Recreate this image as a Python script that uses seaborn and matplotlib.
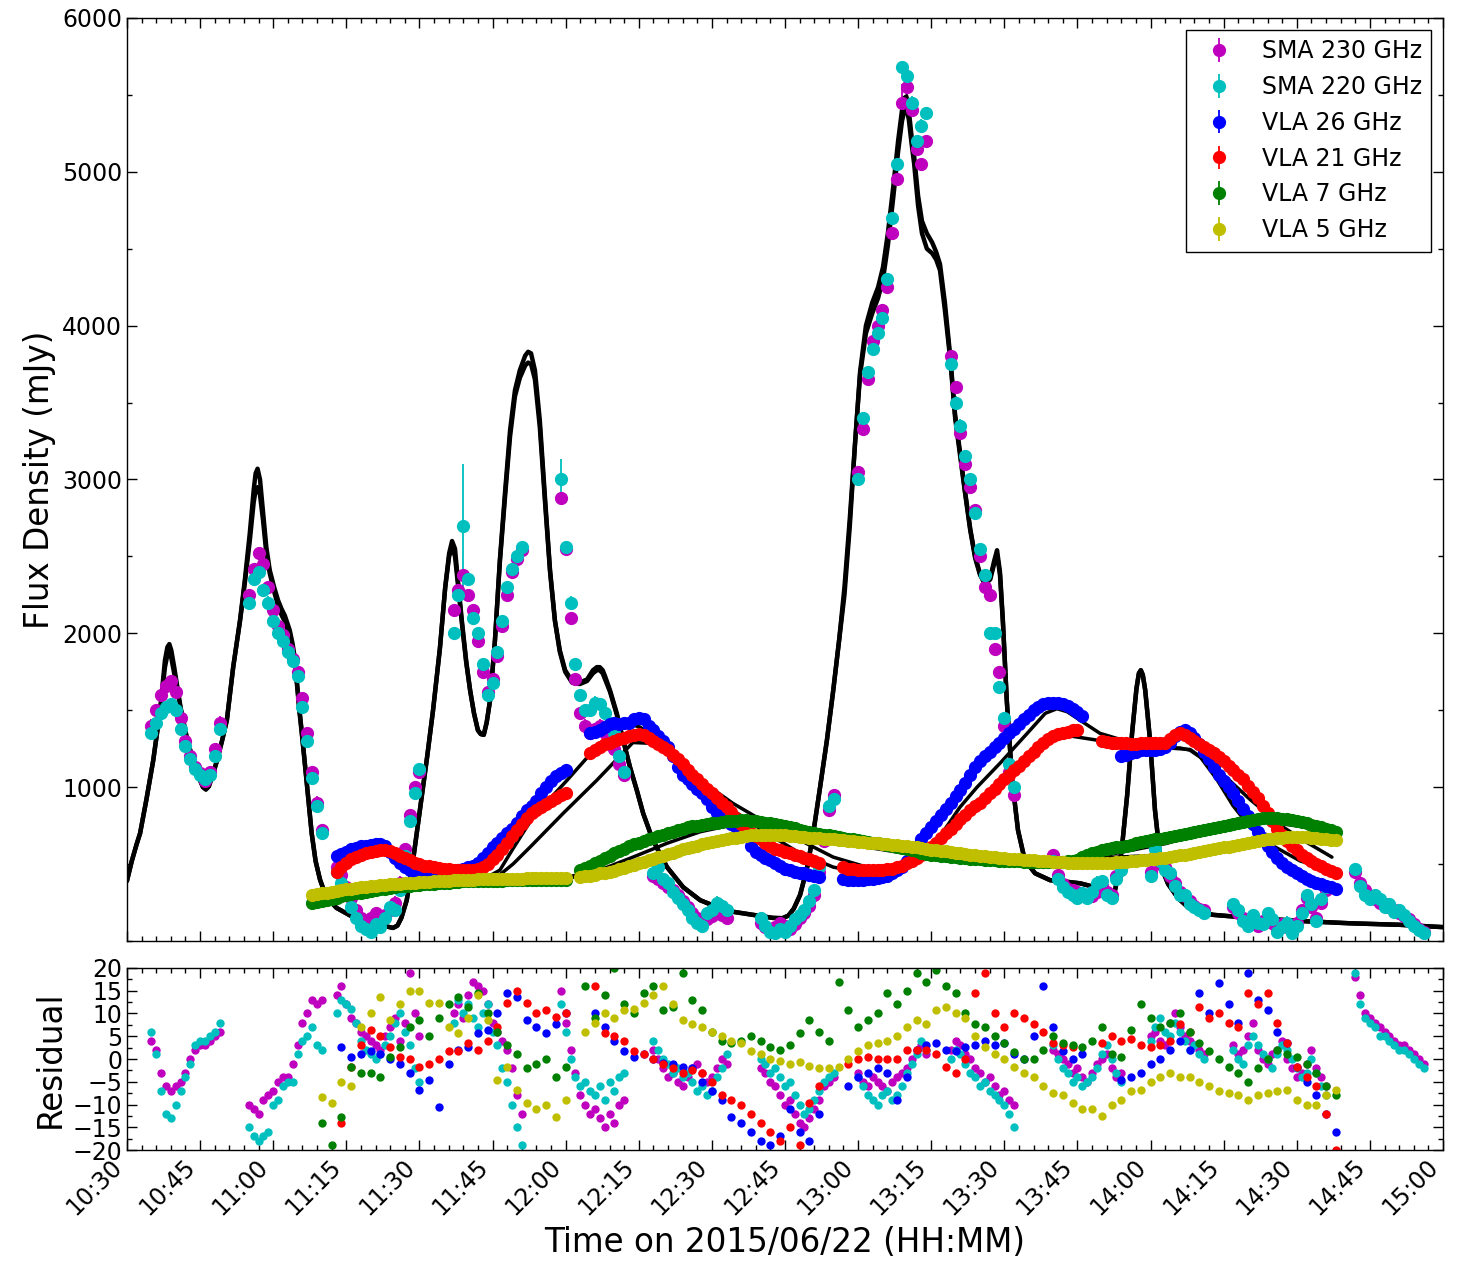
import numpy as np
import matplotlib
matplotlib.use("Agg")
import matplotlib.pyplot as plt
from matplotlib.ticker import MultipleLocator
import seaborn as sns

# ---- data (time = minutes after 10:30 on 2015/06/22, flux in mJy) ----
tick_pos = list(range(0, 271, 15))
tick_labels = ["10:30", "10:45", "11:00", "11:15", "11:30", "11:45", "12:00",
               "12:15", "12:30", "12:45", "13:00", "13:15", "13:30", "13:45",
               "14:00", "14:15", "14:30", "14:45", "15:00"]

# SMA samples (both sidebands share the same scans)
sma_t = [*range(5, 20), *range(25, 41), *range(43, 61), *range(67, 82),
         *range(89, 103), *range(108, 124), *range(130, 146), *range(150, 165),
         *range(169, 183), *range(190, 205), *range(210, 222), *range(227, 247),
         *range(252, 267)]
sma230 = [1400, 1500, 1600, 1660, 1690, 1620, 1450, 1300, 1200, 1130, 1090, 1040, 1100, 1250, 1420,
          2250, 2420, 2520, 2450, 2300, 2150, 2050, 1990, 1900, 1830, 1750, 1580, 1350, 1100, 900, 720,
          480, 430, 350, 280, 200, 150, 120, 150, 180, 130, 170, 200, 250, 380, 600, 820, 1000, 1100,
          2150, 2280, 2380, 2250, 2150, 1950, 1750, 1620, 1700, 1850, 2050, 2250, 2400, 2480, 2540,
          2880, 2550, 2100, 1700, 1480, 1400, 1350, 1380, 1400, 1350, 1300, 1250, 1150, 1080,
          420, 400, 380, 350, 330, 300, 260, 220, 180, 150, 130, 140, 160, 200, 170, 150,
          120, 90, 70, 90, 120, 100, 80, 110, 150, 180, 230, 300, 450, 650, 850, 950,
          3050, 3330, 3650, 3900, 4000, 4100, 4250, 4600, 4950, 5450, 5550, 5400, 5150, 5050, 5200,
          3800, 3600, 3300, 3100, 2950, 2800, 2500, 2300, 2250, 1900, 1750, 1400, 1100, 950,
          560, 430, 370, 340, 330, 320, 300, 300, 290, 320, 360, 320, 300, 420, 480,
          450, 550, 500, 480, 420, 380, 320, 290, 260, 230, 210, 200,
          220, 180, 150, 120, 150, 100, 130, 160, 120, 80, 110, 90, 70, 120, 200, 280, 220, 150, 250, 330,
          450, 380, 330, 290, 270, 250, 240, 220, 200, 180, 160, 140, 110, 80, 60]
sma220 = [1350, 1420, 1480, 1520, 1540, 1500, 1380, 1270, 1180, 1120, 1080, 1050, 1080, 1200, 1380,
          2200, 2350, 2400, 2280, 2200, 2080, 2000, 1950, 1880, 1820, 1720, 1520, 1300, 1060, 880, 700,
          450, 380, 300, 220, 150, 100, 80, 60, 110, 90, 150, 220, 200, 330, 550, 780, 960, 1120,
          2000, 2250, 2700, 2350, 2100, 2000, 1800, 1600, 1680, 1880, 2080, 2300, 2420, 2500, 2560,
          3000, 2560, 2200, 1800, 1600, 1500, 1500, 1550, 1540, 1480, 1420, 1350, 1200, 1100,
          440, 480, 400, 380, 320, 280, 240, 200, 150, 120, 100, 180, 200, 250, 230, 200,
          150, 100, 60, 50, 80, 60, 100, 140, 170, 200, 260, 330, 480, 680, 880, 920,
          3000, 3400, 3700, 3850, 3950, 4050, 4300, 4700, 5050, 5680, 5620, 5450, 5200, 5300, 5380,
          3750, 3500, 3350, 3150, 3000, 2780, 2550, 2380, 2000, 2000, 1650, 1450, 1150, 1000,
          520, 400, 350, 320, 300, 280, 310, 280, 320, 380, 390, 300, 280, 400, 460,
          420, 600, 520, 460, 440, 360, 300, 300, 240, 220, 200, 180,
          240, 200, 130, 100, 170, 120, 110, 180, 140, 60, 90, 120, 50, 100, 180, 300, 240, 130, 270, 350,
          470, 360, 300, 270, 300, 270, 220, 240, 190, 200, 170, 130, 100, 70, 50]
sma_err = 40
sma230_big_err = {159: 120, 160: 100}
sma220_big_err = {69: 400, 89: 130}

res230 = [4, 2, -3, -6, -7, -6, -5, -3, 0, 2, 3, 3, 4, 5, 6,
          -10, -11, -12, -9, -8, -7, -5, -4, -4, -1, 3, 8, 10, 13, 12, 13,
          14, 16, 12, 9, 8, 6, 5, 4, 3, 2, 5, 7, 9, 4, 8, 19, 10, 5,
          10, 12, 9, 14, 17, 16, 15, 12, 8, 6, 4, 2, -2, -8, -12,
          15, 8, 2, -3, -8, -10, -12, -11, -13, -15, -12, -14, -10, -9,
          2, 0, -2, -4, -3, -5, -6, -4, -2, -1, -3, -5, -4, -2, 0, -1,
          -2, -3, -5, -6, -8, -10, -9, -12, -14, -15, -13, -11, -9, -6, -5, -4,
          -3, -5, -6, -4, -5, -6, -7, -5, -4, -3, -2, 0, 2, 3, 1,
          2, 4, 3, 1, 0, -2, -3, -5, -4, -6, -8, -7, -9, -10,
          2, 1, 0, -1, -3, -2, -4, -5, -3, -1, 0, 1, -2, -4, -3,
          5, 6, 4, 3, 8, 10, 7, 5, 4, 3, 2, 1,
          3, 1, 2, 5, 8, 2, 0, -1, 1, 2, 4, 0, -2, -4, -3, -1, 2, -2, -4, -6,
          18, 14, 10, 9, 8, 7, 6, 5, 4, 3, 3, 2, 1, 0, -1]
res220 = [6, 1, -7, -12, -13, -10, -7, -4, -1, 3, 4, 4, 5, 6, 8,
          -15, -17, -18, -17, -16, -10, -9, -6, -5, -5, 1, 4, 5, 7, 3, 2,
          10, 13, 12, 11, 8, 4, 2, 1, 0, 1, 3, 5, 8, 10, 6, 3, -2, -5,
          8, 13, 10, 12, 9, 7, 10, 12, 6, 3, -2, -5, -10, -15, -19,
          12, 6, 0, -4, -6, -5, -7, -8, -6, -9, -5, -7, -4, -3,
          4, 2, 0, -1, -3, -2, -4, -3, -5, -7, -6, -8, -7, -4, -2, 1,
          0, -1, -3, -2, -4, -6, -5, -8, -10, -12, -11, -9, -7, -5, -4, -3,
          -4, -6, -8, -9, -10, -8, -7, -9, -8, -6, -3, -1, 1, 4, 2,
          0, 2, 1, -1, -3, -4, -6, -5, -7, -8, -9, -10, -12, -15,
          3, 0, -2, -3, -5, -4, -6, -5, -4, -2, 1, 3, 0, -3, -5,
          4, 7, 9, 6, 5, 8, 6, 4, 2, 3, 1, 0,
          2, 0, -1, 3, 5, 3, 1, 0, -2, 1, 3, 2, 0, -2, -4, -3, 0, -3, -6, -8,
          19, 12, 9, 8, 7, 5, 5, 4, 3, 2, 2, 1, 0, -1, -2]

# VLA 26 GHz
vla26_t = [*range(43, 91), *range(95, 143), *range(147, 197), *range(204, 249)]
vla26 = [550, 565, 580, 595, 605, 615, 620, 625, 630, 630, 620, 580, 540, 505, 480, 460,
         450, 440, 440, 440, 445, 445, 450, 450, 455, 460, 470, 480, 490, 510, 540, 575,
         610, 640, 670, 700, 730, 770, 810, 850, 880, 910, 960, 1000, 1040, 1070, 1090, 1110,
         1350, 1360, 1370, 1390, 1410, 1415, 1410, 1420, 1420, 1440, 1450, 1440, 1400, 1370, 1330, 1300,
         1260, 1200, 1130, 1080, 1050, 1020, 990, 960, 920, 870, 830, 800, 780, 760, 740, 710,
         680, 620, 580, 560, 540, 525, 510, 490, 470, 460, 450, 445, 440, 430, 420, 415,
         400, 395, 395, 395, 395, 400, 405, 410, 415, 425, 440, 460, 480, 520, 560, 610, 660,
         700, 740, 780, 820, 860, 900, 940, 980, 1030, 1080, 1130, 1170, 1200, 1230, 1260, 1290,
         1320, 1350, 1380, 1410, 1440, 1470, 1500, 1520, 1540, 1550, 1550, 1550, 1540, 1530, 1510, 1490, 1460,
         1200, 1210, 1220, 1230, 1240, 1240, 1240, 1240, 1245, 1260, 1290, 1330, 1360, 1370, 1350,
         1320, 1280, 1230, 1180, 1130, 1080, 1040, 1000, 960, 910, 860, 810, 760, 710, 670,
         620, 580, 540, 510, 480, 460, 440, 420, 405, 390, 380, 370, 360, 350, 340]
# VLA 21 GHz
vla21_t = [*range(43, 91), *range(95, 143), *range(147, 196), *range(200, 249)]
vla21 = [450, 480, 510, 530, 545, 560, 570, 580, 585, 590, 590, 585, 570, 555, 540, 525,
         510, 500, 490, 485, 480, 475, 470, 465, 462, 460, 460, 460, 462, 470, 480, 500,
         530, 560, 600, 640, 680, 720, 760, 800, 830, 850, 870, 890, 910, 930, 950, 960,
         1220, 1240, 1260, 1280, 1290, 1300, 1310, 1320, 1330, 1340, 1345, 1340, 1320, 1300, 1280, 1260,
         1240, 1210, 1180, 1150, 1110, 1080, 1050, 1020, 990, 960, 930, 900, 870, 840, 800, 760,
         730, 700, 680, 660, 640, 620, 600, 590, 580, 570, 560, 550, 540, 530, 520, 510,
         480, 470, 465, 460, 460, 460, 460, 460, 460, 465, 470, 480, 490, 505, 520, 540, 560,
         585, 610, 640, 670, 700, 730, 760, 790, 820, 850, 875, 900, 930, 960, 990, 1020,
         1050, 1080, 1110, 1140, 1170, 1200, 1230, 1260, 1290, 1310, 1330, 1345, 1355, 1360, 1370, 1370,
         1300, 1295, 1290, 1290, 1285, 1285, 1280, 1280, 1285, 1290, 1290, 1285, 1285, 1290, 1310, 1340,
         1350, 1340, 1320, 1300, 1280, 1260, 1240, 1220, 1195, 1170, 1140, 1110, 1080, 1050, 1010, 970,
         930, 880, 830, 780, 730, 690, 650, 620, 590, 560, 540, 520, 500, 485, 470, 455, 440]
# VLA 7 GHz and 5 GHz
vlalow_t = [*range(38, 91), *range(93, 249)]
vla7 = [245, 252, 260, 268, 275, 282, 290, 298, 305, 310, 315, 320, 325, 330, 335, 340, 345, 350,
        355, 358, 360, 363, 365, 368, 370, 373, 375, 378, 380, 383, 385, 387, 388, 389, 390, 391,
        392, 392, 393, 393, 394, 394, 395, 395, 395, 395, 395, 395, 395, 395, 395, 395, 395,
        460, 475, 490, 505, 520, 540, 555, 570, 585, 600, 615, 630, 640, 650, 660, 670, 680, 690,
        700, 710, 720, 730, 740, 745, 750, 755, 760, 765, 770, 775, 778, 780, 782, 785, 785, 783,
        780, 775, 770, 765, 760, 755, 748, 740, 732, 722, 715, 708, 702, 698, 692, 686, 680, 675,
        670, 665, 660, 655, 650, 645, 640, 635, 630, 625, 620, 612, 605, 598, 590, 582, 575, 568,
        562, 558, 555, 550, 548, 545, 540, 538, 535, 532, 530, 528, 526, 524, 522, 520, 519, 518,
        517, 516, 515, 515, 515, 515, 515, 515, 515, 516, 518, 520, 525, 545, 560, 570, 580, 590,
        597, 603, 608, 614, 620, 627, 634, 641, 648, 655, 660, 666, 672, 678, 684, 690, 696, 702,
        708, 714, 720, 727, 734, 740, 748, 755, 762, 770, 776, 782, 788, 793, 797, 800, 800, 798,
        795, 790, 785, 780, 772, 765, 757, 748, 740, 730, 720, 710]
vla5 = [300, 305, 310, 315, 320, 325, 330, 335, 340, 344, 348, 352, 355, 358, 362, 365, 368, 370,
        373, 376, 378, 380, 382, 384, 386, 388, 390, 392, 393, 395, 396, 397, 398, 399, 400, 401,
        402, 403, 404, 404, 405, 405, 406, 406, 407, 407, 408, 408, 409, 409, 410, 410, 410,
        415, 420, 425, 432, 440, 445, 450, 458, 466, 475, 485, 495, 505, 515, 525, 535, 545, 555,
        565, 575, 585, 595, 605, 613, 620, 628, 635, 642, 650, 656, 662, 667, 672, 677, 682, 686,
        689, 690, 691, 691, 690, 689, 687, 684, 680, 677, 675, 672, 670, 668, 665, 662, 660, 657,
        654, 651, 648, 645, 642, 640, 637, 635, 632, 630, 627, 624, 620, 616, 612, 608, 603, 598,
        594, 590, 586, 582, 578, 574, 570, 566, 562, 558, 554, 550, 547, 544, 541, 538, 535, 532,
        530, 528, 526, 524, 522, 520, 518, 516, 514, 512, 510, 508, 506, 505, 505, 505, 506, 507,
        508, 509, 511, 513, 515, 518, 521, 524, 527, 530, 534, 538, 542, 547, 552, 557, 562, 567,
        572, 578, 584, 590, 596, 602, 608, 614, 620, 626, 632, 638, 644, 650, 655, 660, 664, 668,
        671, 673, 675, 676, 676, 675, 672, 668, 664, 660, 657, 655]
vla_err = 10

# residuals for the VLA bands (every other scan)
res26_t = [*range(44, 91, 2), *range(96, 143, 2), *range(148, 197, 2), *range(204, 249, 2)]
res26 = [2.6, 0.5, 1, 1.7, 1, 0, -1, -3, -6.8, -4.6, -10.5, -1, 1.9, 2.6, 5.7, 6.4, 10, 14.5,
         13.6, 8.6, 7, 5.7, 7.8, 10,
         10, 7, 4, 1.7, 0.5, 1, 0, -0.8, -1, -1.7, -2, -5, -7, -9, -12.7, -14, -16, -18, -19,
         -17, -11, -16, -18, -12,
         -6, -4, -3, -2, -3, -9, -4, 2, 3, 3.5, 2, 1.7, 2.6, 3, 4, 3, 3.5, 1, 0, 5, 16, 7, 1.7, 0, 1,
         -4.6, -4, -3, -1, 0, 2, 4, 2, 14.5, 10, 16.6, 12, 8, 19, 13, 10.8, 6, 3.5, -1.7, -5, -8, -12, -16]
res21_t = [*range(44, 91, 2), *range(96, 143, 2), *range(148, 195, 2), *range(200, 249, 2)]
res21 = [-14, -1.7, 3, 6.4, 5, 2.6, 0.5, 0, -1.7, -1, 0, 1.7, 1.7, 3.5, 1.9, 4, 7, 12.3, 15,
         12.3, 10, 10.8, 9.2, 10,
         16, 5.7, 5, 4, 1.7, 1, 0, -1, -2, -3, -2.5, -3, -5, -8, -9, -10, -12, -14, -16, -18,
         -15, -19, -9.7, -6,
         -1, 0, 0.5, 0, 0, 0, 2, 2, 2, 1, -1.7, -3, 0, 14.5, 18.8, 10, 7, 10, 9, 7.8, 6, 3.5, 3, 2.6,
         3.5, 5, 4, 4.5, 3, 2.6, 3, 4, 7.8, 6, 11.5, 9, 10, 8, 7, 14.5, 12, 14.5, 8, 3.5, -1.7,
         -4, -6, -12, -20]
reslow_t = [*range(40, 91, 2), *range(94, 249, 2)]
res7 = [-14, -19, -12.7, -1.7, -3, -3, -4, 0.5, 2.6, 7, 8.6, 5, 9, 12, 13.6, 11.5, 14.5, 10, 6,
        3, 1, -2, -1, 0, -4, -1.7,
        16, 9, 14, 20, 12, 10, 14.5, 16, 10.8, 11.5, 19, 13, 10.8, 6, 4, 3.5, 4, 5, 4, 2.6,
        1.9, 3, 5.7, 8.6, 6, 4, 17, 10.8, 7, 8.6, 10, 14.5, 12, 15, 18.8, 17, 19.6, 16, 14.5,
        10, 7.8, 7, 5, 3.5, 1.5, 0, 0, 2, 5, 3.5, 3, 2.6, 4, 7, 1, 0.5, 6.4, 12, 9, 7, 8, 10,
        6, 3.5, 1.7, 0, -1.7, -3, -5, -2, 0, 2, 1, 0.5, -1, -3, -6, -8]
res5 = [-8.3, -9.6, -5, -6, 7, 10, 13.6, 8.6, 12, 15, 15, 12.3, 12.3, 7, 5.7, 9, 14, 8.6,
        -4.6, -1.7, -6.8, -9.6, -11, -10, -12.7, -9,
        6, 8, 10, 9, 10.8, 11, 12.3, 14, 16, 12, 8.6, 7.8, 7, 6, 5, 4, 3.5, 1.7, 1, 0, -0.5,
        -1, -0.7, -1.5, -2, -2, -1.7, 0, 1.7, 3, 3.5, 4, 5, 7, 8.6, 7.8, 10.8, 11.5, 10, 9, 5,
        2.6, 1, 0, -1.7, -3, -4, -6, -7.5, -8, -9.7, -11, -11, -12.5, -10, -9, -7, -6.8, -5,
        -4, -3, -4, -4, -5, -6, -7, -7.5, -8, -9, -8, -7.5, -7, -6.8, -9, -10, -10, -8, -6.8]

# model light curves
sma_model_t = [0.0, 1.0, 2.0, 2.7, 4.0, 5.4, 6.8, 7.8, 8.3, 8.7,
               9.1, 9.7, 10.4, 11.0, 12.4, 13.6, 14.8, 15.6, 16.2, 16.8,
               17.6, 18.5, 19.5, 20.5, 21.8, 23.2, 24.2, 25.2, 26.0, 26.4,
               26.8, 27.3, 27.9, 28.6, 29.3, 30.2, 31.0, 31.7, 32.4, 33.4,
               34.0, 34.5, 34.9, 35.4, 35.9, 36.9, 37.9, 38.7, 39.6, 40.5,
               41.5, 43.0, 46.4, 50.0, 52.5, 54.6, 55.5, 56.3, 57.4, 58.7,
               60.1, 61.6, 62.8, 64.2, 65.3, 66.1, 66.7, 67.3, 67.9, 68.7,
               69.6, 70.4, 71.2, 72.0, 72.6, 73.2, 73.8, 74.5, 75.5, 76.5,
               77.6, 78.6, 79.6, 80.6, 81.7, 82.3, 82.9, 83.7, 84.7, 85.8,
               86.8, 87.8, 88.8, 89.9, 91.3, 92.9, 94.4, 95.6, 96.4, 97.0,
               97.6, 98.1, 99.1, 100.5, 101.8, 103.2, 104.6, 105.9, 107.9, 110.8,
               114.1, 117.6, 121.1, 124.3, 128.4, 132.5, 134.5, 135.7, 136.8, 138.1,
               139.5, 140.7, 142.2, 143.6, 144.9, 146.1, 147.2, 148.3, 149.4, 150.4,
               151.6, 152.9, 154.1, 155.1, 156.1, 157.2, 158.2, 159.0, 159.5, 159.9,
               160.4, 160.9, 161.5, 162.3, 163.1, 164.1, 165.2, 166.0, 166.8, 167.8,
               168.9, 169.9, 170.9, 171.9, 173.0, 174.0, 175.0, 176.0, 177.1, 177.9,
               178.5, 179.1, 179.7, 180.5, 181.6, 182.8, 184.2, 186.3, 189.4, 191.4,
               195.5, 198.6, 200.7, 201.6, 202.1, 202.7, 203.3, 204.1, 205.2, 206.2,
               207.1, 207.6, 208.0, 208.4, 208.9, 209.9, 210.9, 211.9, 212.7, 213.6,
               215.6, 217.3, 219.1, 222.8, 230.4, 240.7, 250.9, 261.2, 270.0]
sma230_model = [390, 520, 630, 700, 920, 1175, 1500, 1825, 1910, 1930,
                1890, 1780, 1640, 1520, 1305, 1175, 1060, 1000, 985, 1005,
                1080, 1175, 1300, 1435, 1780, 2085, 2350, 2650, 2930, 3040,
                3070, 3000, 2800, 2560, 2410, 2300, 2215, 2160, 2115, 2020,
                1930, 1825, 1675, 1500, 1350, 1025, 700, 520, 400, 320,
                265, 215, 155, 115, 100, 85, 100, 150, 265, 525,
                850, 1200, 1500, 1900, 2300, 2520, 2600, 2550, 2345, 2085,
                1820, 1630, 1480, 1370, 1345, 1340, 1420, 1565, 1955, 2475,
                2930, 3320, 3580, 3710, 3805, 3830, 3820, 3710, 3385, 2865,
                2410, 2085, 1890, 1760, 1690, 1680, 1700, 1760, 1780, 1780,
                1760, 1720, 1630, 1480, 1305, 1130, 980, 830, 655, 480,
                350, 265, 220, 190, 170, 150, 148, 165, 210, 300,
                470, 680, 1000, 1305, 1630, 1955, 2300, 2750, 3250, 3700,
                4000, 4150, 4250, 4380, 4600, 4900, 5200, 5400, 5480, 5490,
                5400, 5250, 5100, 4845, 4680, 4600, 4540, 4480, 4400, 4150,
                3800, 3420, 3180, 2930, 2680, 2500, 2390, 2325, 2360, 2470,
                2540, 2400, 2085, 1565, 1045, 720, 525, 440, 395, 390,
                375, 350, 320, 305, 300, 330, 420, 600, 950, 1350,
                1640, 1740, 1760, 1730, 1630, 1300, 850, 560, 440, 370,
                280, 230, 200, 170, 150, 130, 115, 105, 90]
sma220_model = [390, 520, 630, 700, 920, 1175, 1490, 1780, 1860, 1880,
                1840, 1740, 1620, 1510, 1300, 1175, 1060, 1000, 985, 1005,
                1080, 1175, 1300, 1435, 1780, 2080, 2330, 2600, 2850, 2930,
                2950, 2900, 2740, 2520, 2390, 2270, 2180, 2120, 2075, 1985,
                1900, 1800, 1660, 1490, 1340, 1025, 700, 520, 400, 320,
                265, 215, 155, 115, 100, 85, 100, 150, 265, 525,
                850, 1200, 1500, 1900, 2300, 2500, 2560, 2500, 2320, 2070,
                1810, 1630, 1480, 1370, 1345, 1340, 1420, 1565, 1955, 2460,
                2900, 3280, 3540, 3660, 3740, 3760, 3750, 3650, 3340, 2840,
                2400, 2080, 1880, 1750, 1680, 1670, 1690, 1740, 1760, 1760,
                1740, 1700, 1620, 1470, 1305, 1130, 980, 830, 655, 480,
                350, 265, 220, 190, 170, 150, 148, 165, 210, 300,
                470, 680, 1000, 1305, 1630, 1955, 2250, 2700, 3250, 3680,
                3950, 4080, 4180, 4300, 4520, 4830, 5130, 5330, 5400, 5420,
                5340, 5200, 5050, 4780, 4600, 4500, 4470, 4430, 4360, 4100,
                3780, 3400, 3160, 2920, 2670, 2490, 2380, 2320, 2350, 2450,
                2510, 2380, 2070, 1560, 1045, 720, 525, 440, 395, 390,
                375, 350, 320, 305, 300, 330, 420, 600, 950, 1350,
                1640, 1740, 1760, 1730, 1630, 1300, 850, 560, 440, 370,
                280, 230, 200, 170, 150, 130, 115, 105, 90]
vla26_model_t = [43.3, 48.0, 50.5, 52.5, 55.0, 58.1, 62.0, 66.1, 70.0, 73.9,
                 76.5, 79.2, 83.3, 90.3, 97.0, 102.6, 105.3, 110.8, 117.6, 124.3,
                 131.3, 138.1, 144.9, 151.8, 158.6, 162.7, 166.8, 170.9, 174.4, 179.1,
                 184.7, 188.4, 190.8, 192.9, 199.6, 206.4, 213.4, 218.1, 220.1, 223.6,
                 226.9, 230.4, 233.9, 240.7, 247.2]
vla26_model = [530, 560, 580, 575, 545, 500, 450, 420, 405, 415,
               460, 600, 805, 1045, 1285, 1415, 1390, 1260, 1045, 895,
               765, 655, 545, 480, 460, 530, 680, 870, 1000, 1155,
               1350, 1480, 1510, 1490, 1350, 1285, 1255, 1245, 1200, 1050,
               880, 740, 640, 520, 460]
vla21_model_t = [43.3, 48.0, 51.9, 55.0, 58.1, 62.0, 66.1, 70.0, 73.9, 75.9,
                 79.2, 82.7, 89.5, 96.4, 103.8, 107.3, 110.8, 117.6, 124.3, 131.3,
                 138.1, 144.9, 151.8, 158.6, 165.4, 172.3, 176.4, 179.1, 184.7, 189.4,
                 192.0, 196.1, 203.1, 209.9, 216.0, 218.1, 223.6, 230.4, 237.2, 242.1,
                 247.2]
vla21_model = [510, 550, 570, 555, 520, 470, 430, 410, 405, 415,
               500, 610, 830, 1045, 1290, 1285, 1220, 1025, 850, 700,
               570, 480, 440, 460, 610, 800, 960, 1000, 1175, 1305,
               1340, 1320, 1285, 1255, 1255, 1240, 1120, 920, 740, 640,
               545]
vla7_model_t = [43.3, 56.0, 70.4, 76.5, 90.3, 97.0, 103.8, 110.8, 117.6, 124.3, 127.8, 131.3,
                138.1, 144.9, 151.8, 158.6, 165.4, 172.3, 185.9, 199.6, 213.4, 223.6, 229.0,
                233.9, 240.7, 247.2]
vla7_model = [300, 350, 385, 395, 415, 460, 545, 635, 710, 755, 765, 755,
              710, 655, 610, 575, 545, 530, 520, 550, 635, 740, 785,
              775, 745, 720]
vla5_model_t = [43.3, 56.0, 70.4, 76.5, 90.3, 97.0, 103.8, 110.8, 117.6, 124.3, 131.3, 138.1,
                144.9, 151.8, 158.6, 165.4, 172.3, 185.9, 199.6, 213.4, 223.6, 233.9, 240.7, 247.2]
vla5_model = [300, 350, 385, 395, 410, 430, 480, 560, 635, 675, 700, 690,
              670, 635, 610, 575, 560, 540, 540, 560, 610, 665, 685, 690]

# ---- style ----
sns.set_style("ticks", {"xtick.direction": "in", "ytick.direction": "in",
                        "axes.edgecolor": "black", "axes.grid": False})
plt.rcParams.update({
    "font.family": ["DejaVu Sans"],
    "text.color": "black", "axes.labelcolor": "black",
    "xtick.top": True, "ytick.right": True,
    "xtick.major.size": 7, "ytick.major.size": 7,
    "xtick.minor.size": 3.5, "ytick.minor.size": 3.5,
    "xtick.major.width": 1, "ytick.major.width": 1,
    "xtick.minor.width": 1, "ytick.minor.width": 1,
    "xtick.color": "black", "ytick.color": "black",
    "xtick.labelsize": 17, "ytick.labelsize": 17,
    "axes.linewidth": 1,
})

fig = plt.figure(figsize=(14.64, 12.74), dpi=100)
ax = fig.add_axes([0.0867, 0.2614, 0.899, 0.7245])
axr = fig.add_axes([0.0867, 0.0973, 0.899, 0.1429])


def err_array(t, base, big):
    e = np.full(len(t), float(base))
    for tt, ee in big.items():
        e[t.index(tt)] = ee
    return e


data = [
    ("SMA 230 GHz", sma_t, sma230, err_array(sma_t, sma_err, sma230_big_err), "m"),
    ("SMA 220 GHz", sma_t, sma220, err_array(sma_t, sma_err, sma220_big_err), "c"),
    ("VLA 26 GHz", vla26_t, vla26, vla_err, "b"),
    ("VLA 21 GHz", vla21_t, vla21, vla_err, "r"),
    ("VLA 7 GHz", vlalow_t, vla7, vla_err, "g"),
    ("VLA 5 GHz", vlalow_t, vla5, vla_err, "y"),
]
for label, t, v, e, c in data:
    ax.errorbar(t, v, yerr=e, fmt="o", color=c, mec=c, ms=8.5,
                elinewidth=1.3, capsize=0, label=label)

models = [(sma_model_t, sma230_model, 3.2), (sma_model_t, sma220_model, 3.2),
          (vla26_model_t, vla26_model, 2.5), (vla21_model_t, vla21_model, 2.5),
          (vla7_model_t, vla7_model, 2.5), (vla5_model_t, vla5_model, 2.5)]
for t, v, lw in models:
    sns.lineplot(x=t, y=v, color="k", lw=lw, ax=ax, sort=False,
                 estimator=None, legend=False)

resid = [(sma_t, res230, "m"), (sma_t, res220, "c"), (res26_t, res26, "b"),
         (res21_t, res21, "r"), (reslow_t, res7, "g"), (reslow_t, res5, "y")]
for t, r, c in resid:
    sns.scatterplot(x=t, y=r, color=c, s=36, linewidth=0, ax=axr, legend=False)

# ---- axes ----
ax.set_xlim(0, 270)
ax.set_ylim(0, 6000)
ax.set_xticks(tick_pos)
ax.xaxis.set_minor_locator(MultipleLocator(3))
ax.set_yticks(range(1000, 6001, 1000))
ax.yaxis.set_minor_locator(MultipleLocator(500))
ax.tick_params(labelbottom=False)
ax.tick_params(which="both", direction="in", top=True, right=True)
ax.set_ylabel("Flux Density (mJy)", fontsize=23.5)
ax.legend(loc="upper right", numpoints=1, fontsize=17, fancybox=False,
          edgecolor="black", framealpha=1, labelspacing=0.5)

axr.set_xlim(0, 270)
axr.set_ylim(-20, 20)
axr.set_xticks(tick_pos)
axr.set_xticklabels(tick_labels, rotation=45, ha="right")
axr.xaxis.set_minor_locator(MultipleLocator(3))
axr.set_yticks(range(-20, 21, 5))
axr.yaxis.set_minor_locator(MultipleLocator(2.5))
axr.tick_params(which="both", direction="in", top=True, right=True)
axr.set_ylabel("Residual", fontsize=23.5)
axr.set_xlabel("Time on 2015/06/22 (HH:MM)", fontsize=23.5)

fig.savefig("out.png", dpi=100)
